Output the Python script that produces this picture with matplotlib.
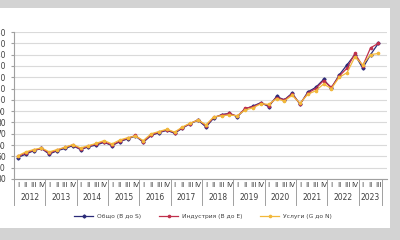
import matplotlib
matplotlib.use("Agg")
import matplotlib.pyplot as plt
import matplotlib.transforms as mtransforms
from matplotlib.patches import Rectangle

years = [str(y) for y in range(2012, 2024)]
quarter_names = ["I", "II", "III", "IV"]
n_quarters = [4] * 11 + [3]

total = [49, 52, 55, 57, 52, 55, 57, 59.5, 56, 58.5, 60, 62.5,
         59.5, 63, 65.5, 68, 62.5, 68.5, 71, 73, 70.5, 75, 79, 82,
         76, 84, 87, 88, 85, 92, 94.5, 97.5, 94, 103, 100, 106,
         96, 107, 111, 118, 110.5, 122, 131, 140, 128, 140, 150]
industry = [50, 53, 55.5, 57, 53, 55.5, 58, 60, 56.5, 59, 61, 63,
            60, 63.5, 66, 68.5, 63, 69, 71.5, 73.5, 71, 75.5, 79, 82.5,
            77, 84.5, 86.5, 88, 85.5, 92.5, 94, 97, 95, 102, 100, 105,
            96.5, 106, 110, 117, 111, 121, 128, 141, 130, 146, 150]
services = [50.5, 54, 56, 57.5, 54, 56, 58, 60.5, 57.5, 59.5, 61.5, 64,
            61, 64.5, 66.5, 68, 64, 70, 72, 74, 71.5, 76, 79.5, 82,
            78, 85, 86, 86.5, 86, 91, 93, 96.5, 96, 101, 99, 104,
            97, 105, 108, 114, 110, 120, 124, 138, 131, 140, 141]

labels = ["Общо (B до S)", "Индустрия (B до E)", "Услуги (G до N)"]
colors = ["#2A2A78", "#C0304C", "#F2B83A"]

quarter_labels = []
for n in n_quarters:
    quarter_labels += quarter_names[:n]
x = list(range(len(total)))

plt.rcParams['font.family'] = ['DejaVu Sans']
fig = plt.figure(figsize=(4.0, 2.4), dpi=100)
fig.patch.set_facecolor("#D3D3D3")
# white panel
fig.add_artist(Rectangle((0, 12 / 240), 390 / 400, 1 - 20 / 240,
                         transform=fig.transFigure, facecolor="white",
                         edgecolor="none", zorder=0))

W, H = 400, 240
left, right, top, bottom = 14, 387, 32, 179
ax = fig.add_axes([left / W, 1 - bottom / H, (right - left) / W, (bottom - top) / H])
ax.set_facecolor("none")

for ser, c, lab in zip([total, industry, services], colors, labels):
    ax.plot(x, ser, color=c, lw=0.9, marker="D" if c == colors[0] else "o",
            ms=1.6, label=lab, zorder=3)

ax.set_ylim(30, 160)
ax.set_yticks(range(30, 161, 10))
ax.set_xlim(-0.5, 47.1)
ax.grid(axis="y", color="#DADADA", lw=0.8)
ax.set_axisbelow(True)
for s in ["top", "right"]:
    ax.spines[s].set_visible(False)
for s in ["left", "bottom"]:
    ax.spines[s].set_color("#A0A0A0")
    ax.spines[s].set_linewidth(0.8)
ax.tick_params(axis="y", labelsize=5.5, length=2, color="#A0A0A0", pad=4,
               labelcolor="#404040")
ax.set_xticks(x)
ax.set_xticklabels(quarter_labels, fontsize=5.3, color="#404040")
ax.tick_params(axis="x", length=0, pad=2)

trans = mtransforms.blended_transform_factory(ax.transData, ax.transAxes)
ph = 1 / (bottom - top)
pos = -0.5
bounds = [pos]
for y, n in zip(years, n_quarters):
    ax.text(pos + n / 2, -18 * ph, y, transform=trans, ha="center", va="center",
            fontsize=5.5, color="#404040")
    pos += n
    bounds.append(pos)
for b in bounds:
    ax.plot([b, b], [0, -26 * ph], transform=trans, color="#A0A0A0", lw=0.7,
            clip_on=False)

leg = fig.legend(loc="center", bbox_to_anchor=(203 / W, 1 - 216 / H), ncol=3,
                 frameon=False, fontsize=4.3, handlelength=3.2,
                 columnspacing=3.0, handletextpad=0.6)
for t in leg.get_texts():
    t.set_color("#404040")

fig.savefig("out.png", dpi=100, facecolor=fig.get_facecolor())
